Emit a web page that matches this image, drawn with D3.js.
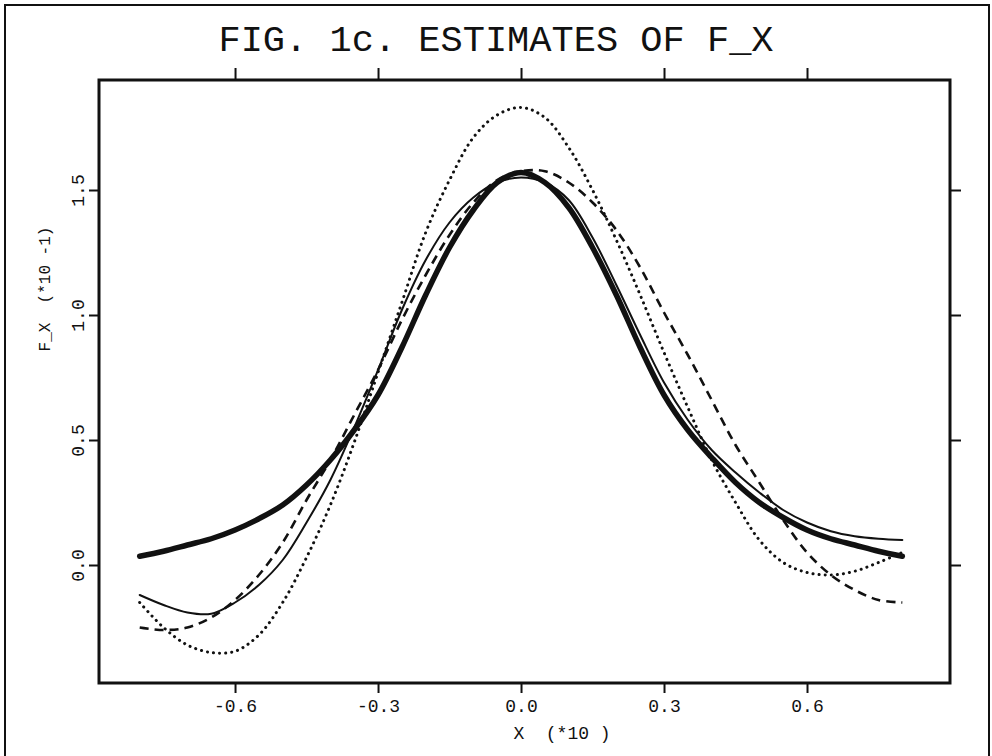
<!DOCTYPE html>
<html>
<head>
<meta charset="utf-8">
<script src="https://cdn.jsdelivr.net/npm/d3@7"></script>
<style>
  body { margin: 0; background: #fff; }
  svg text { font-family: "Liberation Mono", "Courier New", monospace; fill: #111; }
</style>
</head>
<body>
<div id="chart"></div>
<script>
// x grid of the estimates, step 0.05
const xs = d3.range(33).map(i => +(-0.8 + i * 0.05).toFixed(2));

// thick solid: true density
const trueF = [0.035, 0.055, 0.08, 0.105, 0.14, 0.185, 0.24, 0.32, 0.42, 0.54, 0.68, 0.87, 1.08, 1.27, 1.42, 1.53, 1.57,
               1.53, 1.43, 1.27, 1.08, 0.87, 0.68, 0.54, 0.43, 0.33, 0.25, 0.19, 0.14, 0.105, 0.08, 0.055, 0.035];
// thin solid
const thinF = [-0.12, -0.16, -0.19, -0.195, -0.15, -0.08, 0.02, 0.17, 0.34, 0.55, 0.78, 1.02, 1.22, 1.37, 1.47, 1.53, 1.55,
               1.53, 1.46, 1.31, 1.12, 0.92, 0.73, 0.58, 0.46, 0.37, 0.29, 0.22, 0.17, 0.135, 0.115, 0.105, 0.10];
// dashed
const dashF = [-0.25, -0.26, -0.25, -0.21, -0.14, -0.04, 0.09, 0.26, 0.42, 0.6, 0.78, 0.98, 1.16, 1.32, 1.45, 1.54, 1.575,
               1.575, 1.53, 1.45, 1.34, 1.19, 1.01, 0.84, 0.66, 0.48, 0.33, 0.18, 0.05, -0.04, -0.10, -0.14, -0.15];
// dotted
const dotF = [-0.15, -0.25, -0.32, -0.35, -0.345, -0.28, -0.15, 0.03, 0.24, 0.49, 0.77, 1.05, 1.33, 1.54, 1.71, 1.80, 1.83,
              1.79, 1.67, 1.50, 1.30, 1.08, 0.85, 0.63, 0.42, 0.25, 0.10, 0.01, -0.03, -0.04, -0.025, 0.01, 0.05];

const xTicks = [-0.6, -0.3, 0.0, 0.3, 0.6];
const yTicks = [0.0, 0.5, 1.0, 1.5];

const W = 992, H = 756;
const box = { left: 99, right: 950, top: 80, bottom: 683 };

const svg = d3.select("#chart").append("svg")
    .attr("width", W).attr("height", H);

svg.append("rect").attr("width", W).attr("height", H).attr("fill", "#fff");

// outer frame (bottom edge runs off the page)
svg.append("rect")
    .attr("x", 5).attr("y", 5).attr("width", 984).attr("height", 770)
    .attr("fill", "none").attr("stroke", "#111").attr("stroke-width", 2);

let x = d3.scaleLinear().domain([-0.8854, 0.9] ).range([box.left, box.right]);
let y = d3.scaleLinear().domain([-0.472, 1.94]).range([box.bottom, box.top]);

let fmt = d => d.toFixed(1);

// bottom axis with labels
let gb = svg.append("g")
    .attr("transform", "translate(0," + box.bottom + ")")
    .call(d3.axisBottom(x).tickValues(xTicks).tickFormat(fmt).tickSize(10).tickSizeOuter(0));
gb.selectAll("text").attr("y", 16).style("font-size", "18px");

// top axis, ticks only
svg.append("g")
    .attr("transform", "translate(0," + box.top + ")")
    .call(d3.axisTop(x).tickValues(xTicks).tickFormat("").tickSize(12).tickSizeOuter(0));

// left axis, rotated labels
let gl = svg.append("g")
    .attr("transform", "translate(" + box.left + ",0)")
    .call(d3.axisLeft(y).tickValues(yTicks).tickFormat(fmt).tickSize(10).tickSizeOuter(0));
gl.selectAll("text")
    .attr("transform", "rotate(-90)")
    .attr("x", 0).attr("y", -15).attr("dy", 0)
    .style("text-anchor", "middle")
    .style("font-size", "18px");

// right axis, ticks only
svg.append("g")
    .attr("transform", "translate(" + box.right + ",0)")
    .call(d3.axisRight(y).tickValues(yTicks).tickFormat("").tickSize(11).tickSizeOuter(0));

svg.selectAll(".domain").remove();
svg.selectAll(".tick line").attr("stroke", "#111").attr("stroke-width", 2);

// plot box
svg.append("rect")
    .attr("x", box.left).attr("y", box.top)
    .attr("width", box.right - box.left).attr("height", box.bottom - box.top)
    .attr("fill", "none").attr("stroke", "#111").attr("stroke-width", 3);

// titles
svg.append("text")
    .attr("x", 496).attr("y", 51)
    .attr("text-anchor", "middle")
    .style("font-size", "37px")
    .text("FIG. 1c. ESTIMATES OF F_X");

svg.append("text")
    .attr("x", 562).attr("y", 739)
    .attr("text-anchor", "middle")
    .style("font-size", "18px")
    .style("white-space", "pre")
    .attr("xml:space", "preserve")
    .text("X  (*10 )");

svg.append("text")
    .attr("transform", "translate(50,289) rotate(-90)")
    .attr("text-anchor", "middle")
    .style("font-size", "16px")
    .style("white-space", "pre")
    .attr("xml:space", "preserve")
    .text("F_X  (*10 -1)");

// curves
let line = d3.line()
    .x(d => x(d[0]))
    .y(d => y(d[1]))
    .curve(d3.curveCatmullRom.alpha(0.5));

let series = [
    { vals: dotF,  width: 3,   dash: "0.1 6",  cap: "round" },
    { vals: dashF, width: 2.6, dash: "9 6",    cap: "butt" },
    { vals: thinF, width: 2,   dash: null,     cap: "round" },
    { vals: trueF, width: 5.5, dash: null,     cap: "round" }
];

series.forEach(function (s) {
    svg.append("path")
        .datum(xs.map((v, i) => [v, s.vals[i]]))
        .attr("d", line)
        .attr("fill", "none")
        .attr("stroke", "#111")
        .attr("stroke-width", s.width)
        .attr("stroke-linecap", s.cap)
        .attr("stroke-dasharray", s.dash);
});
</script>
</body>
</html>
